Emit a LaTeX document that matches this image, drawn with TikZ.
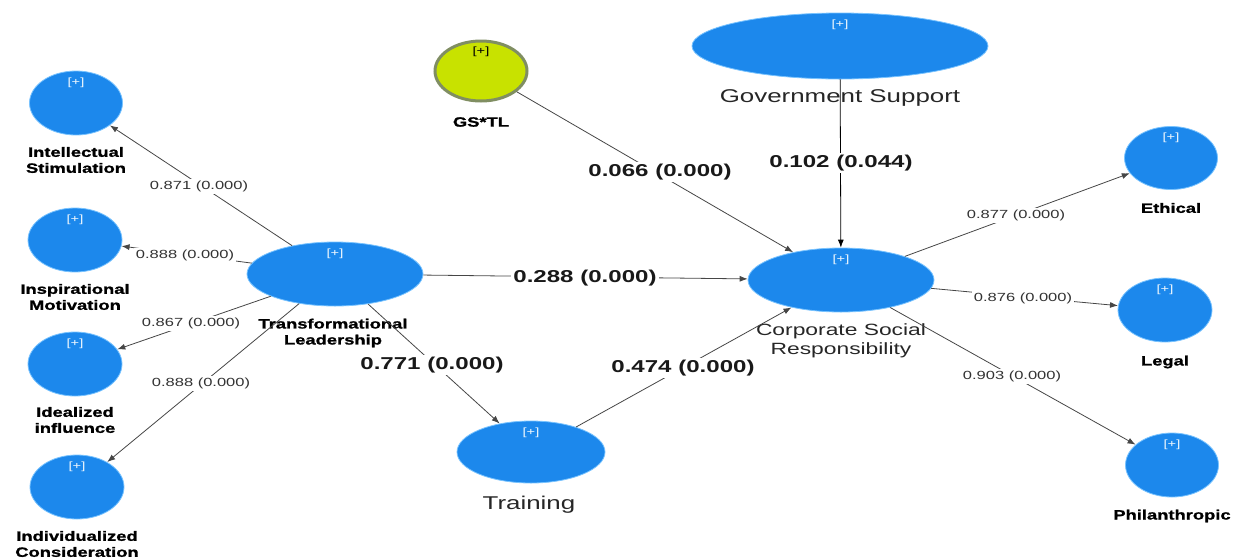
\documentclass[tikz,border=0pt]{standalone}
\usepackage{fontspec}
\setmainfont{Liberation Sans}[FakeStretch=1.4]
\newfontfamily\heavyfont{Liberation Sans Bold}[FakeStretch=1.36,FakeBold=1.2]
\usetikzlibrary{shapes.geometric,arrows.meta}
\definecolor{lvblue}{RGB}{28,136,236}
\definecolor{lvedge}{RGB}{120,195,255}
\definecolor{mgreen}{RGB}{200,226,0}
\definecolor{mgborder}{RGB}{128,142,98}
\definecolor{arrowgray}{RGB}{70,70,70}
\tikzset{
  lv/.style={ellipse, fill=lvblue, draw=lvedge, line width=0.8pt, inner sep=0pt,
    label={[plusmark, anchor=north, yshift=-7pt]north:[+]}},
  plusmark/.style={font=\fontsize{10.5}{11}\selectfont, text=white!92!lvblue, inner sep=0pt},
  modlv/.style={ellipse, fill=mgreen, draw=mgborder, line width=3pt, inner sep=0pt,
    label={[plusmark, text=black, anchor=north, yshift=-7pt]north:[+]}},
  boldname/.style={font=\heavyfont\fontsize{13.5}{16}\selectfont, align=center, inner sep=0pt},
  plainname/.style={font=\fontsize{18.5}{20}\selectfont, align=center, inner sep=0pt, text=black!85},
  csrname/.style={font=\fontsize{16.3}{19}\selectfont, align=center, inner sep=0pt, text=black!85},
  edge/.style={draw=arrowgray, line width=0.8pt, -{Latex[length=8pt,width=6pt]}},
  loading/.style={font=\fontsize{11.8}{13}\selectfont, fill=white, text=black!80, inner sep=2pt},
  pathco/.style={font=\bfseries\fontsize{17.2}{19}\selectfont, fill=white, text=black!90, inner sep=2pt}
}
\begin{document}
\begin{tikzpicture}[x=1pt,y=-1pt]
\useasboundingbox (0,0) rectangle (1243,558);
% latent variables
\node[lv, minimum width=93pt, minimum height=64pt] (IS) at (76,103) {};
\node[lv, minimum width=94pt, minimum height=64pt] (IM) at (75,240) {};
\node[lv, minimum width=94pt, minimum height=64pt] (II) at (75,364) {};
\node[lv, minimum width=94pt, minimum height=64pt] (IC) at (77,487) {};
\node[lv, minimum width=176pt, minimum height=64pt] (TL) at (335,274) {};
\node[modlv, minimum width=92pt, minimum height=60pt] (GS) at (481,71) {};
\node[lv, minimum width=296pt, minimum height=66pt] (GOV) at (840,46) {};
\node[lv, minimum width=186pt, minimum height=64pt] (CSR) at (841,280) {};
\node[lv, minimum width=148pt, minimum height=62pt] (TRN) at (531,452) {};
\node[lv, minimum width=93pt, minimum height=63pt] (ETH) at (1171,158) {};
\node[lv, minimum width=94pt, minimum height=64pt] (LEG) at (1165,310) {};
\node[lv, minimum width=93pt, minimum height=64pt] (PHI) at (1172,465) {};
% names
\node[boldname] (nIS) at (76,160) {Intellectual\\Stimulation};
\node[boldname] (nIM) at (75,297) {Inspirational\\Motivation};
\node[boldname] (nII) at (75,420) {Idealized\\influence};
\node[boldname] (nIC) at (77,544) {Individualized\\Consideration};
\node[boldname] (nTL) at (333,333) {Transformational\\Leadership};
\node[boldname] (nGS) at (481,122) {GS*TL};
\node[plainname] (nGOV) at (840,98) {Government Support};
\node[csrname] (nCSR) at (841,341) {Corporate Social\\Responsibility};
\node[plainname] (nTRN) at (529,505) {Training};
\node[boldname] (nETH) at (1171,208) {Ethical};
\node[boldname] (nLEG) at (1165,362) {Legal};
\node[boldname] (nPHI) at (1172,516) {Philanthropic};
% connectors
\draw[edge] (TL) -- (IS);
\draw[edge] (TL) -- (IM);
\draw[edge] (TL) -- (II);
\draw[edge] (TL) -- (IC);
\draw[edge] (TL) -- (CSR);
\draw[edge] (TL) -- (TRN);
\draw[edge] (TRN) -- (CSR);
\draw[edge] (GS) -- (CSR);
\draw[edge, draw=black] (GOV) -- (CSR);
\draw[edge] (CSR) -- (ETH);
\draw[edge] (CSR) -- (LEG);
\draw[edge] (CSR) -- (PHI);
% coefficient labels
\node[loading] (c1) at (199,186) {0.871 (0.000)};
\node[loading] (c2) at (185,255) {0.888 (0.000)};
\node[loading] (c3) at (191,323) {0.867 (0.000)};
\node[loading] (c4) at (201,383) {0.888 (0.000)};
\node[pathco] (c5) at (585,278) {0.288 (0.000)};
\node[pathco] (c6) at (432,365) {0.771 (0.000)};
\node[pathco] (c7) at (683,368) {0.474 (0.000)};
\node[pathco] (c8) at (660,172) {0.066 (0.000)};
\node[pathco] (c9) at (841,163) {0.102 (0.044)};
\node[loading] (c10) at (1016,215) {0.877 (0.000)};
\node[loading] (c11) at (1023,298) {0.876 (0.000)};
\node[loading] (c12) at (1012,376) {0.903 (0.000)};
\end{tikzpicture}
\end{document}
